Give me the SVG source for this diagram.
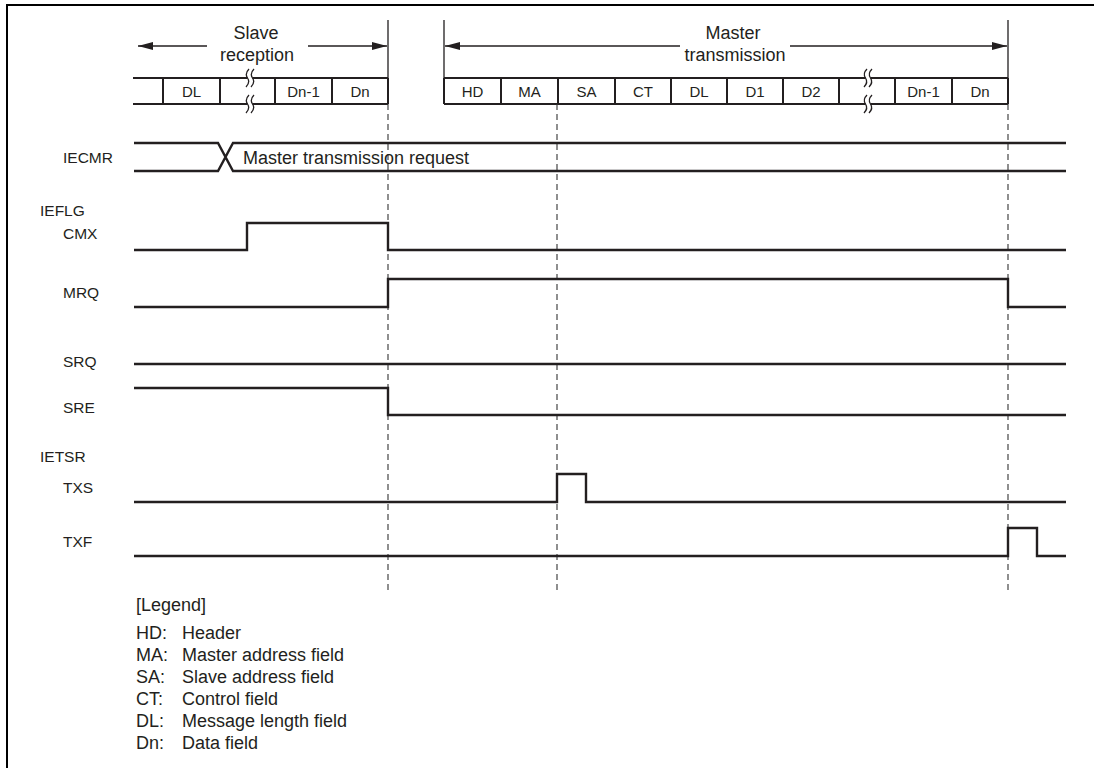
<svg xmlns="http://www.w3.org/2000/svg" width="1094" height="768" viewBox="0 0 1094 768">
<defs>
<style>
text{font-family:"Liberation Sans",Arial,Helvetica,sans-serif;fill:#231f20}
.big{font-size:18px}
.lbl{font-size:15.5px}
.cell{font-size:15px;text-anchor:middle}
.mid{text-anchor:middle}
.bar{fill:none;stroke:#231f20;stroke-width:2}
.wave{fill:none;stroke:#231f20;stroke-width:2.4;stroke-linejoin:miter}
.dash{fill:none;stroke:#333;stroke-width:1.1;stroke-dasharray:6 4}
.solid{fill:none;stroke:#231f20;stroke-width:1.3}
.arr{fill:none;stroke:#231f20;stroke-width:1.3}
.sq{fill:none;stroke:#231f20;stroke-width:1.3}
</style>
<marker id="ah" markerWidth="16" markerHeight="10" refX="15" refY="5" orient="auto-start-reverse" markerUnits="userSpaceOnUse">
<path d="M0,1 L15,5 L0,9 Z" fill="#231f20"/>
</marker>
</defs>
<rect width="1094" height="768" fill="#fff"/>
<path d="M7,768 V5 H1094" fill="none" stroke="#000" stroke-width="2"/>

<g id="slave-frame">
<path class="bar" d="M133,78 H247.5 M252.5,78 H388 M133,104 H247.5 M252.5,104 H388"/>
<path class="bar" d="M163,78 V104 M220,78 V104 M275,78 V104 M332,78 V104 M388,78 V104"/>
<path class="sq" d="M249,69 Q244.5,73.5 247.5,78 Q250.5,82.5 246,87 M254,69 Q249.5,73.5 252.5,78 Q255.5,82.5 251,87"/>
<path class="sq" d="M249,95 Q244.5,99.5 247.5,104 Q250.5,108.5 246,113 M254,95 Q249.5,99.5 252.5,104 Q255.5,108.5 251,113"/>
<text class="cell" x="191.5" y="97">DL</text>
<text class="cell" x="303.5" y="97">Dn-1</text>
<text class="cell" x="360" y="97">Dn</text>
</g>

<g id="master-frame">
<path class="bar" d="M444,78 H865.5 M870.5,78 H1008 M444,104 H865.5 M870.5,104 H1008"/>
<path class="bar" d="M444,78 V104 M501,78 V104 M558,78 V104 M615,78 V104 M671,78 V104 M727,78 V104 M783,78 V104 M839,78 V104 M895,78 V104 M952,78 V104 M1008,78 V104"/>
<path class="sq" d="M867,69 Q862.5,73.5 865.5,78 Q868.5,82.5 864,87 M872,69 Q867.5,73.5 870.5,78 Q873.5,82.5 869,87"/>
<path class="sq" d="M867,95 Q862.5,99.5 865.5,104 Q868.5,108.5 864,113 M872,95 Q867.5,99.5 870.5,104 Q873.5,108.5 869,113"/>
<text class="cell" x="472.5" y="97">HD</text>
<text class="cell" x="529.5" y="97">MA</text>
<text class="cell" x="586.5" y="97">SA</text>
<text class="cell" x="643" y="97">CT</text>
<text class="cell" x="699" y="97">DL</text>
<text class="cell" x="755" y="97">D1</text>
<text class="cell" x="811" y="97">D2</text>
<text class="cell" x="923.5" y="97">Dn-1</text>
<text class="cell" x="980" y="97">Dn</text>
</g>

<g id="slave-span">
<text class="big mid" x="256" y="39">Slave</text>
<text class="big mid" x="257" y="61">reception</text>
</g>
<g id="master-span">
<text class="big mid" x="733" y="39">Master</text>
<text class="big mid" x="735" y="61">transmission</text>
</g>

<g id="connectors">
<path class="solid" d="M388,20 V78 M444,20 V104 M1008,20 V78"/>
<path class="dash" d="M388,104 V593 M557,104 V593 M1008,104 V593"/>
<path class="arr" d="M207,46 H138" marker-end="url(#ah)"/>
<path class="arr" d="M308,46 H387" marker-end="url(#ah)"/>
<path class="arr" d="M680,46 H445" marker-end="url(#ah)"/>
<path class="arr" d="M790,46 H1007" marker-end="url(#ah)"/>
</g>

<g id="IECMR">
<text class="lbl" x="63" y="163">IECMR</text>
<path class="wave" d="M134,143 H218 L233,171 H1066 M134,171 H218 L233,143 H1066"/>
<text class="big" x="243" y="164">Master transmission request</text>
</g>
<g id="IEFLG">
<text class="lbl" x="40" y="216">IEFLG</text>
</g>
<g id="CMX">
<text class="lbl" x="63" y="239">CMX</text>
<path class="wave" d="M134,250 H247 V223 H388 V250 H1066"/>
</g>
<g id="MRQ">
<text class="lbl" x="63" y="298">MRQ</text>
<path class="wave" d="M134,307 H388 V279 H1008 V307 H1066"/>
</g>
<g id="SRQ">
<text class="lbl" x="63" y="367">SRQ</text>
<path class="wave" d="M134,364 H1066"/>
</g>
<g id="SRE">
<text class="lbl" x="63" y="413">SRE</text>
<path class="wave" d="M134,388 H388 V415 H1066"/>
</g>
<g id="IETSR">
<text class="lbl" x="40" y="462">IETSR</text>
</g>
<g id="TXS">
<text class="lbl" x="63" y="493">TXS</text>
<path class="wave" d="M134,502 H557 V474 H586 V502 H1066"/>
</g>
<g id="TXF">
<text class="lbl" x="63" y="547">TXF</text>
<path class="wave" d="M134,556 H1008 V528 H1037 V556 H1066"/>
</g>

<g id="legend">
<text class="big" x="136" y="611">[Legend]</text>
<text class="big" x="136" y="639">HD:</text><text class="big" x="182" y="639">Header</text>
<text class="big" x="136" y="661">MA:</text><text class="big" x="182" y="661">Master address field</text>
<text class="big" x="136" y="683">SA:</text><text class="big" x="182" y="683">Slave address field</text>
<text class="big" x="136" y="705">CT:</text><text class="big" x="182" y="705">Control field</text>
<text class="big" x="136" y="727">DL:</text><text class="big" x="182" y="727">Message length field</text>
<text class="big" x="136" y="749">Dn:</text><text class="big" x="182" y="749">Data field</text>
</g>
</svg>
